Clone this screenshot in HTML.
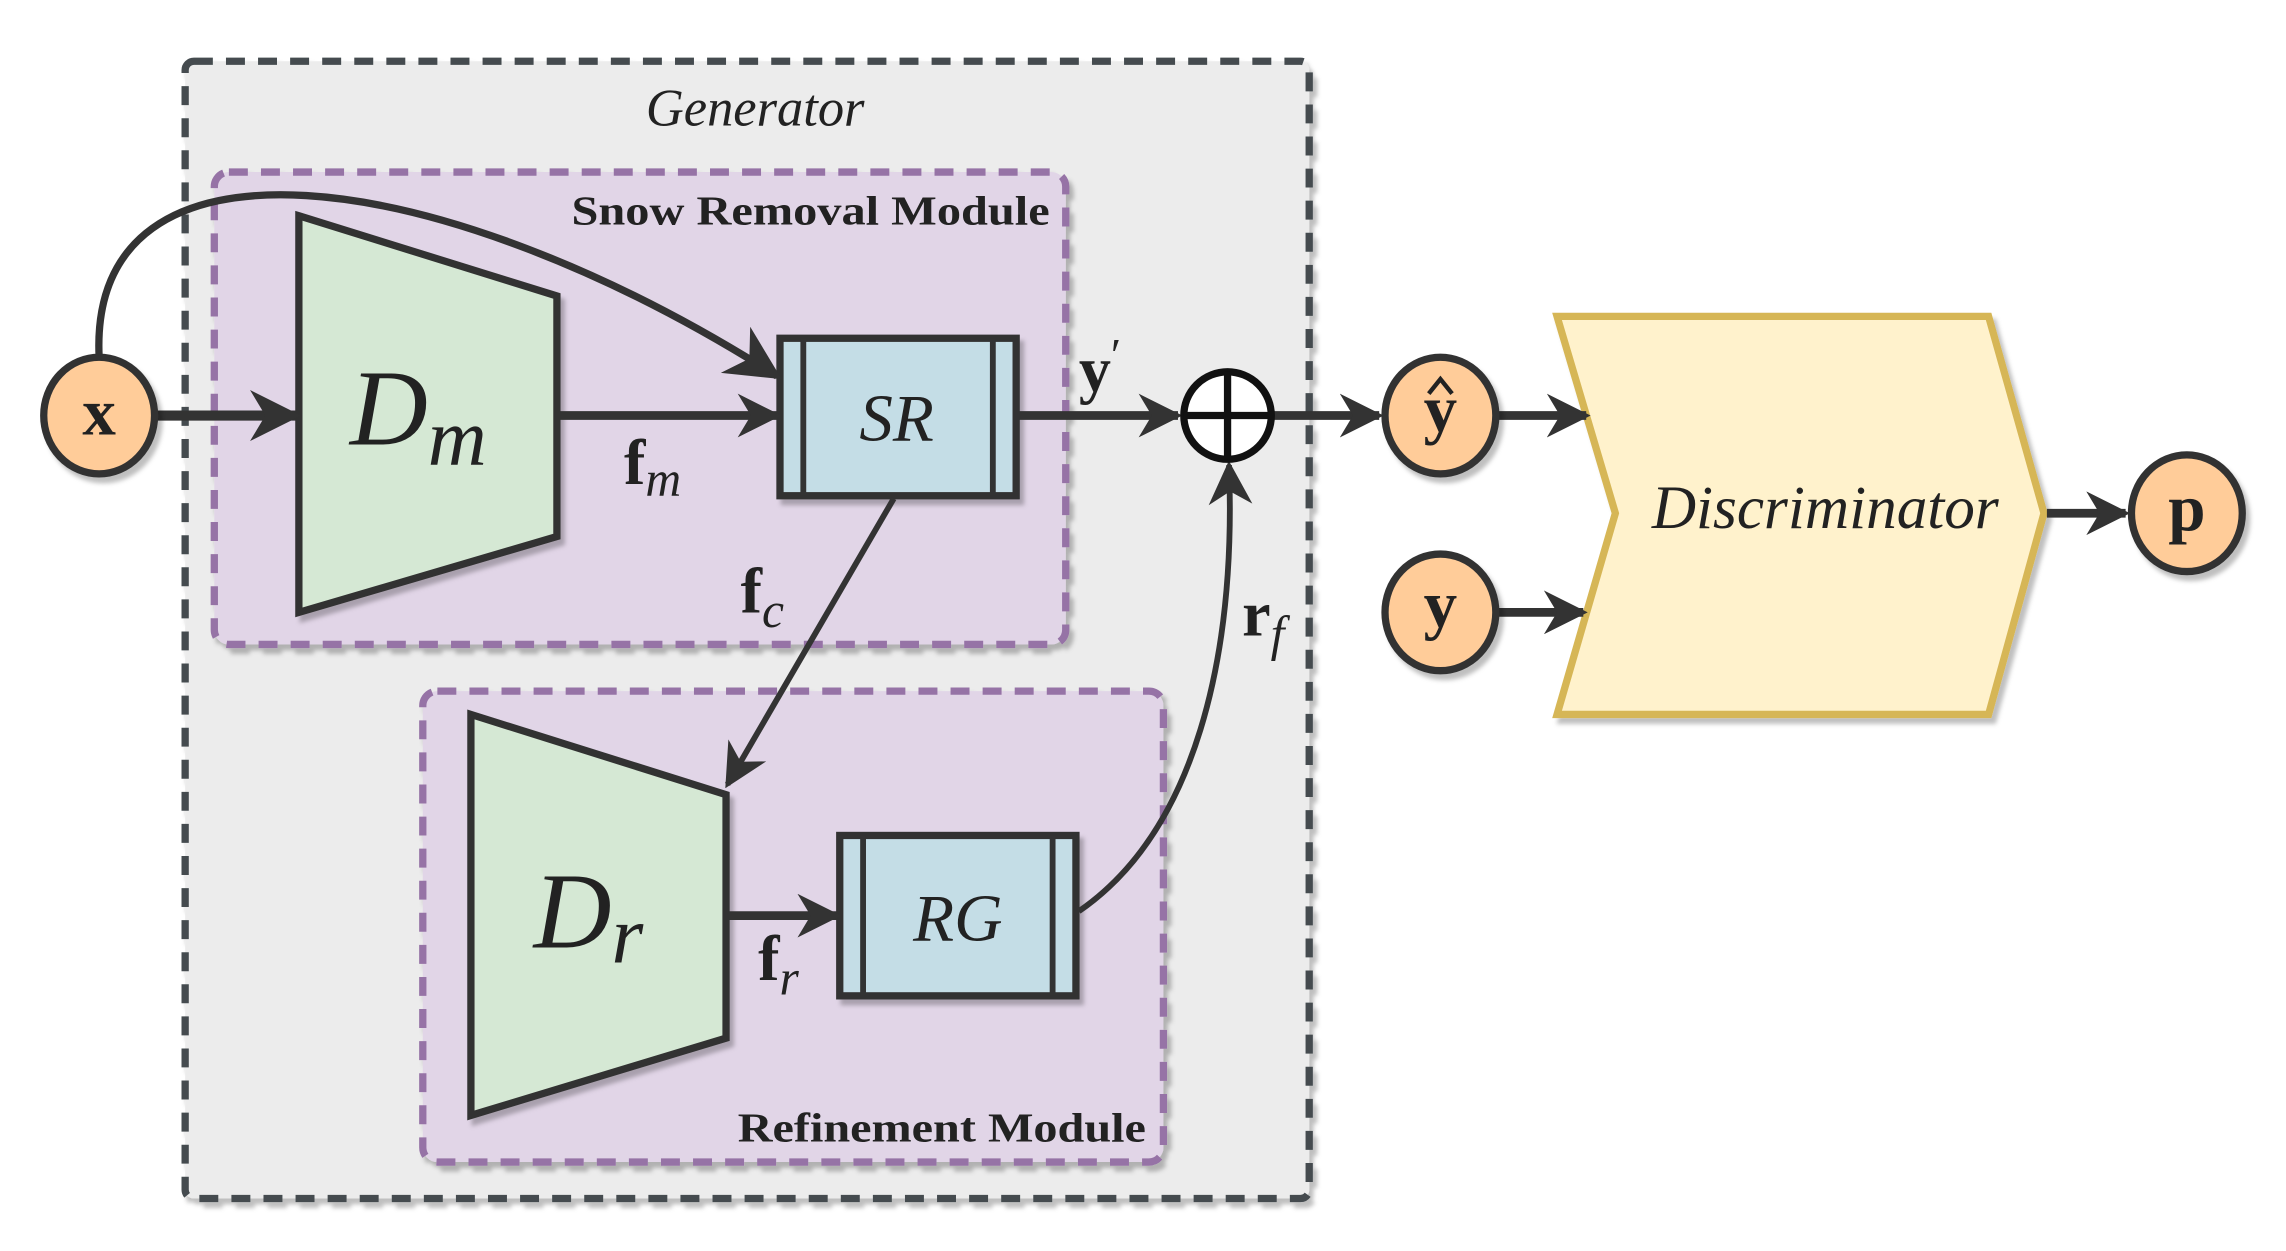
<!DOCTYPE html>
<html><head><meta charset="utf-8"><style>
html,body{margin:0;padding:0;background:#fff;}
svg{display:block;}
</style></head><body>
<svg width="2286" height="1251" viewBox="0 0 1568 858" preserveAspectRatio="none" xmlns="http://www.w3.org/2000/svg" font-family="Liberation Serif, DejaVu Serif, serif">
<defs>
<marker id="a" viewBox="0 0 10 10" refX="9" refY="5" markerWidth="5" markerHeight="5" orient="auto" markerUnits="strokeWidth">
<path d="M0,0 L10,5 L0,10 L3,5 z" fill="#333"/></marker>
<marker id="b" viewBox="0 0 10 10" refX="9" refY="5" markerWidth="7.5" markerHeight="7.5" orient="auto" markerUnits="strokeWidth">
<path d="M0,0 L10,5 L0,10 L3,5 z" fill="#333"/></marker>
<filter id="s" x="-10%" y="-10%" width="130%" height="130%"><feDropShadow dx="3" dy="4" stdDeviation="1.5" flood-color="#000" flood-opacity="0.25"/></filter>
</defs>
<g fill="#222">
<rect x="127" y="42" width="771" height="780" rx="6" fill="#ececec" stroke="#444c50" stroke-width="5" stroke-dasharray="13,9" filter="url(#s)"/>
<text x="518" y="86" font-size="36" font-style="italic" text-anchor="middle" font-family="Liberation Serif, serif">Generator</text>
<rect x="147" y="118" width="584" height="324" rx="10" fill="#e1d5e7" stroke="#9673a6" stroke-width="5" stroke-dasharray="13,9" filter="url(#s)"/>
<text x="720" y="154" font-size="28" font-weight="bold" text-anchor="end" textLength="328" lengthAdjust="spacingAndGlyphs" font-family="Liberation Serif, serif">Snow Removal Module</text>
<rect x="290" y="474" width="508" height="323" rx="10" fill="#e1d5e7" stroke="#9673a6" stroke-width="5" stroke-dasharray="13,9" filter="url(#s)"/>
<text x="786" y="783" font-size="28" font-weight="bold" text-anchor="end" textLength="280" lengthAdjust="spacingAndGlyphs" font-family="Liberation Serif, serif">Refinement Module</text>
<polygon points="205,148 382,203 382,368 205,420" fill="#d5e8d4" stroke="#333" stroke-width="5" filter="url(#s)"/>
<text x="240" y="305" font-size="74" font-style="italic" font-family="Liberation Serif, serif">D<tspan font-size="56" dy="14">m</tspan></text>
<rect x="535" y="232" width="162" height="108" fill="#c4dde6" stroke="#333" stroke-width="5" filter="url(#s)"/>
<line x1="551" y1="232" x2="551" y2="340" stroke="#333" stroke-width="4"/>
<line x1="681" y1="232" x2="681" y2="340" stroke="#333" stroke-width="4"/>
<text x="615" y="302" font-size="46" font-style="italic" text-anchor="middle" font-family="Liberation Serif, serif">SR</text>
<polygon points="323,490 498,545 498,712 323,765" fill="#d5e8d4" stroke="#333" stroke-width="5" filter="url(#s)"/>
<text x="366" y="650" font-size="74" font-style="italic" font-family="Liberation Serif, serif">D<tspan font-size="56" dy="10">r</tspan></text>
<rect x="576" y="573" width="162" height="110" fill="#c4dde6" stroke="#333" stroke-width="5" filter="url(#s)"/>
<line x1="592" y1="573" x2="592" y2="683" stroke="#333" stroke-width="4"/>
<line x1="722" y1="573" x2="722" y2="683" stroke="#333" stroke-width="4"/>
<text x="657" y="645" font-size="46" font-style="italic" text-anchor="middle" font-family="Liberation Serif, serif">RG</text>
<polygon points="1068,217 1364,217 1402,352 1364,490 1068,490 1108,352" fill="#fff2cc" stroke="#d6b656" stroke-width="5" filter="url(#s)"/>
<text x="1252" y="362" font-size="42" font-style="italic" text-anchor="middle" font-family="Liberation Serif, serif">Discriminator</text>
</g>
<g stroke="#333" fill="none">
<line x1="106" y1="285" x2="203" y2="285" stroke-width="7" marker-end="url(#a)"/>
<path d="M68,245 C60,80 300,110 533,258" stroke-width="5" marker-end="url(#b)"/>
<line x1="384" y1="285" x2="533" y2="285" stroke-width="6" marker-end="url(#a)"/>
<line x1="699" y1="285" x2="808" y2="285" stroke-width="6" marker-end="url(#a)"/>
<line x1="874" y1="285" x2="946" y2="285" stroke-width="6" marker-end="url(#a)"/>
<line x1="1028" y1="285" x2="1088" y2="285" stroke-width="6" marker-end="url(#a)"/>
<line x1="1028" y1="420" x2="1086" y2="420" stroke-width="6" marker-end="url(#a)"/>
<line x1="1404" y1="352" x2="1458" y2="352" stroke-width="6" marker-end="url(#a)"/>
<line x1="613" y1="342" x2="499" y2="538" stroke-width="4" marker-end="url(#b)"/>
<line x1="500" y1="628" x2="574" y2="628" stroke-width="6" marker-end="url(#a)"/>
<path d="M740,625 C820,570 848,450 843,319" stroke-width="4" marker-end="url(#b)"/>
</g>
<g fill="#222" font-family="Liberation Serif, serif">
<text x="428" y="332" font-size="44" font-weight="bold">f<tspan font-size="34" font-style="italic" font-weight="normal" dy="8">m</tspan></text>
<text x="740" y="268" font-size="44" font-weight="bold">y<tspan font-size="32" font-weight="normal" dy="-14">′</tspan></text>
<text x="508" y="420" font-size="44" font-weight="bold">f<tspan font-size="34" font-style="italic" font-weight="normal" dy="10">c</tspan></text>
<text x="852" y="436" font-size="44" font-weight="bold">r<tspan font-size="34" font-style="italic" font-weight="normal" dy="10">f</tspan></text>
<text x="520" y="672" font-size="44" font-weight="bold">f<tspan font-size="34" font-style="italic" font-weight="normal" dy="10">r</tspan></text>
</g>
<g stroke="#333" stroke-width="5" fill="#ffcc99" filter="url(#s)">
<ellipse cx="68" cy="285" rx="38" ry="40"/>
<ellipse cx="988" cy="285" rx="38" ry="40"/>
<ellipse cx="988" cy="420" rx="38" ry="40"/>
<ellipse cx="1500" cy="352" rx="38" ry="40"/>
</g>
<circle cx="842" cy="285" r="30" fill="#fff" stroke="#111" stroke-width="5"/>
<line x1="812" y1="285" x2="872" y2="285" stroke="#111" stroke-width="5"/>
<line x1="842" y1="255" x2="842" y2="315" stroke="#111" stroke-width="5"/>
<g fill="#222" font-family="Liberation Serif, serif" font-weight="bold" text-anchor="middle">
<text x="68" y="298" font-size="46">x</text>
<text x="988" y="296" font-size="46">y</text>
<path d="M980,270 L988,260 L996,270" fill="none" stroke="#222" stroke-width="3"/>
<text x="988" y="430" font-size="46">y</text>
<text x="1500" y="364" font-size="46">p</text>
</g>
</svg>
</body></html>
